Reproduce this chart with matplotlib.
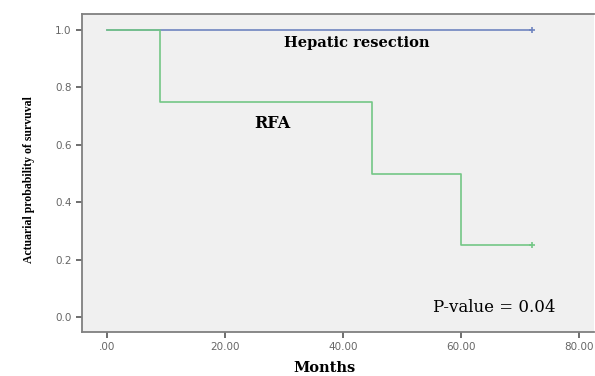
import matplotlib
matplotlib.use("Agg")
import matplotlib.pyplot as plt

# survival data
hep_months = [0, 72]
hep_surv = [1.0, 1.0]
rfa_months = [0, 9, 45, 60, 72]
rfa_surv = [1.0, 0.75, 0.5, 0.25, 0.25]
x_ticks = [0, 20, 40, 60, 80]
x_labels = [".00", "20.00", "40.00", "60.00", "80.00"]
y_ticks = [0.0, 0.2, 0.4, 0.6, 0.8, 1.0]

fig = plt.figure(figsize=(5.95, 3.76), dpi=100)
ax = fig.add_axes([0.138, 0.117, 0.860, 0.846])
ax.set_facecolor("#f0f0f0")

blue = "#6f84bf"
green = "#74c786"
ax.step(hep_months, hep_surv, where="post", color=blue, lw=1.2)
ax.plot(hep_months[-1], hep_surv[-1], marker="+", color=blue, ms=5, mew=1.2)
ax.step(rfa_months, rfa_surv, where="post", color=green, lw=1.2)
ax.plot(rfa_months[-1], rfa_surv[-1], marker="+", color=green, ms=5, mew=1.2)

ax.set_xlim(-4.2, 82.5)
ax.set_ylim(-0.052, 1.056)
ax.set_xticks(x_ticks)
ax.set_xticklabels(x_labels)
ax.set_yticks(y_ticks)
ax.set_yticklabels([f"{v:.1f}" for v in y_ticks])
ax.tick_params(colors="#555555", labelsize=7.5, length=4, width=1.2)
for lab in ax.get_xticklabels() + ax.get_yticklabels():
    lab.set_color("#666666")

for s in ax.spines.values():
    s.set_color("#808080")
    s.set_linewidth(1.3)
ax.spines["right"].set_visible(False)

wide = "DejaVu Serif"
ax.text(42.4, 0.955, "Hepatic resection", family=wide, weight="bold", fontsize=10.5,
        ha="center", va="center")
ax.text(28, 0.676, "RFA", family=wide, weight="bold", fontsize=11.5,
        ha="center", va="center")
ax.text(65.6, 0.035, "P-value = 0.04", family=wide, fontsize=12, ha="center", va="center")

ax.set_xlabel("Months", family=wide, weight="bold", fontsize=10.5)
ax.xaxis.set_label_coords(0.473, -0.092)
ax.set_ylabel("Actuarial probability of survuval", family="Liberation Serif",
              weight="bold", fontsize=8.5)
ax.yaxis.set_label_coords(-0.092, 0.478)

fig.savefig("out.png", dpi=100)
